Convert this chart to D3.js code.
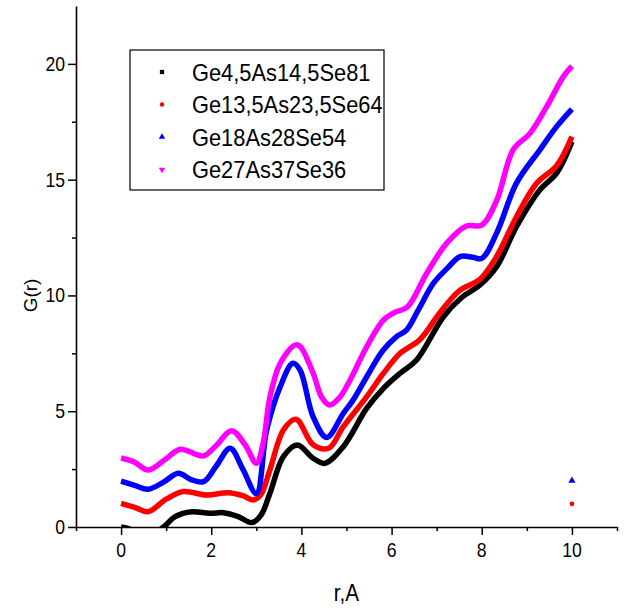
<!DOCTYPE html>
<html>
<head>
<meta charset="utf-8">
<script src="https://cdn.jsdelivr.net/npm/d3@7.9.0/dist/d3.min.js"></script>
<style>
  body { margin: 0; background: #fff; }
  svg text { font-family: "Liberation Sans", Arial, sans-serif; }
</style>
</head>
<body>
<svg id="chart" width="624" height="608"></svg>
<script>
// series: [r, G(r)]
const ge45 = [[0,0],[0.2,-0.1],[0.5,-0.5],[0.94,0],[1.2,0.45],[1.57,0.66],[1.97,0.59],[2.27,0.62],
  [2.6,0.45],[2.9,0.19],[3.1,0.5],[3.3,1.45],[3.6,3.04],[3.91,3.54],[4.26,2.97],[4.52,2.75],
  [4.93,3.47],[5.45,5.13],[5.82,5.99],[6.19,6.64],[6.55,7.2],[7.15,9.08],[7.55,9.9],
  [7.96,10.45],[8.33,11.24],[8.77,12.97],[9.29,14.56],[9.66,15.28],[10,16.64]];
const ge135 = [[0,1.02],[0.3,0.85],[0.6,0.66],[1.0,1.2],[1.38,1.53],[1.9,1.38],[2.38,1.48],[2.7,1.35],
  [2.93,1.17],[3.1,1.4],[3.3,2.46],[3.6,4.19],[3.88,4.65],[4.26,3.55],[4.6,3.4],[4.93,4.33],
  [5.45,5.63],[5.82,6.64],[6.19,7.5],[6.63,8.1],[7.07,9.25],[7.5,10.2],[7.96,10.7],
  [8.33,11.68],[8.77,13.4],[9.22,14.85],[9.66,15.6],[10,16.86]];
const ge18 = [[0,1.98],[0.3,1.8],[0.6,1.63],[0.95,1.95],[1.27,2.32],[1.55,2.05],[1.83,1.96],[2.1,2.6],
  [2.42,3.4],[2.7,2.5],[3.0,1.45],[3.23,4.19],[3.53,6.06],[3.81,7.07],[3.97,6.78],[4.26,4.76],
  [4.56,3.87],[4.93,4.91],[5.15,5.49],[5.45,6.49],[5.8,7.6],[6.11,8.22],[6.33,8.5],[6.6,9.4],
  [6.93,10.53],[7.25,11.2],[7.52,11.68],[7.8,11.65],[8.0,11.6],[8.33,12.69],[8.77,14.85],
  [9.29,16.29],[9.66,17.29],[10,18.05]];
const ge27 = [[0,2.98],[0.3,2.8],[0.6,2.46],[1.0,2.95],[1.31,3.36],[1.82,3.07],[2.1,3.5],[2.45,4.16],
  [2.75,3.55],[3.0,2.75],[3.15,3.6],[3.3,5.6],[3.53,7.07],[3.86,7.86],[3.97,7.8],[4.26,6.64],
  [4.45,5.6],[4.62,5.27],[4.85,5.6],[5.08,6.35],[5.45,7.79],[5.82,8.94],[6.05,9.25],[6.35,9.5],
  [6.78,10.96],[7.22,12.25],[7.66,13.0],[8.0,13.04],[8.33,14.1],[8.7,16.3],[9.07,17.0],
  [9.44,18.15],[9.81,19.45],[10,19.9]];

const seriesNames = ["Ge4,5As14,5Se81", "Ge13,5As23,5Se64", "Ge18As28Se54", "Ge27As37Se36"];
const seriesData = [ge45, ge135, ge18, ge27];
const colors = ["#000000", "#ff0000", "#0000ff", "#ff00ff"];
const symbols = [d3.symbolSquare, d3.symbolCircle, d3.symbolTriangle, d3.symbolTriangle];

// stray single points at r=10
const extraPoints = [{ r: 10, g: 2, s: 2 }, { r: 10, g: 1, s: 1 }];

const xTicks = [0, 2, 4, 6, 8, 10];
const yTicks = [0, 5, 10, 15, 20];

const svg = d3.select("#chart");

const x = d3.scaleLinear().domain([-1, 11]).range([76, 617]);
const y = d3.scaleLinear().domain([0, 22.5]).range([527, 6]);

svg.append("clipPath").attr("id", "plot")
  .append("rect")
  .attr("x", x(-1)).attr("y", y(22.5))
  .attr("width", x(11) - x(-1)).attr("height", y(0) - y(22.5));

const line = d3.line()
  .x((d) => x(d[0]))
  .y((d) => y(d[1]))
  .curve(d3.curveCatmullRom.alpha(0.5));

svg.append("g")
  .attr("clip-path", "url(#plot)")
  .selectAll("path")
  .data(seriesData)
  .join("path")
  .attr("d", line)
  .attr("fill", "none")
  .attr("stroke", (d, i) => colors[i])
  .attr("stroke-width", 5.5)
  .attr("stroke-linejoin", "round");

svg.selectAll(".extra")
  .data(extraPoints)
  .join("path")
  .attr("class", "extra")
  .attr("transform", (d) => `translate(${x(d.r)},${y(d.g)})`)
  .attr("d", (d) => d3.symbol().type(symbols[d.s]).size(d.s === 2 ? 22 : 18)())
  .attr("fill", (d) => colors[d.s]);

// x axis
const xAxis = svg.append("g").attr("transform", `translate(0,${y(0)})`);
xAxis.call(d3.axisBottom(x).tickValues(d3.range(-1, 12, 1)).tickSize(0).tickFormat(""));
xAxis.select(".domain").attr("stroke-width", 1.6);
xAxis.selectAll(".tick line")
  .attr("y2", (d) => (xTicks.includes(d) ? 8 : 4))
  .attr("stroke-width", 1.5);
xAxis.selectAll(".lbl")
  .data(xTicks)
  .join("text")
  .attr("class", "lbl")
  .attr("transform", (d) => `translate(${x(d)},30) scale(0.88,1)`)
  .attr("text-anchor", "middle")
  .attr("font-size", 20)
  .attr("fill", "#000")
  .text((d) => d);

// y axis
const yAxis = svg.append("g").attr("transform", `translate(${x(-1)},0)`);
yAxis.call(d3.axisLeft(y).tickValues(d3.range(0, 22.5, 2.5)).tickSize(0).tickFormat(""));
yAxis.select(".domain").attr("stroke-width", 1.6);
yAxis.selectAll(".tick line")
  .attr("x2", (d) => (yTicks.includes(d) ? -8 : -4))
  .attr("stroke-width", 1.5);
yAxis.selectAll(".lbl")
  .data(yTicks)
  .join("text")
  .attr("class", "lbl")
  .attr("transform", (d) => `translate(-11,${y(d) + 7}) scale(0.88,1)`)
  .attr("text-anchor", "end")
  .attr("font-size", 20)
  .attr("fill", "#000")
  .text((d) => d);

svg.append("text")
  .attr("transform", `translate(37,${y(10)}) rotate(-90)`)
  .attr("text-anchor", "middle")
  .attr("font-size", 19)
  .text("G(r)");

svg.append("text")
  .attr("transform", `translate(${x(5)},601) scale(0.9,1)`)
  .attr("text-anchor", "middle")
  .attr("font-size", 23)
  .text("r,A");

// legend
const legend = svg.append("g");
legend.append("rect")
  .attr("x", 130).attr("y", 50).attr("width", 254).attr("height", 140)
  .attr("fill", "#fff").attr("stroke", "#000").attr("stroke-width", 1.2);
const rows = legend.selectAll(".row")
  .data(seriesNames)
  .join("g")
  .attr("transform", (d, i) => `translate(0,${72 + i * 32.5})`);
rows.append("path")
  .attr("transform", (d, i) => `translate(162,0) rotate(${i === 3 ? 180 : 0})`)
  .attr("d", (d, i) => d3.symbol().type(symbols[i]).size(i === 1 ? 16 : 18)())
  .attr("fill", (d, i) => colors[i]);
rows.append("text")
  .attr("transform", "translate(192,8.5) scale(0.91,1)")
  .attr("font-size", 24)
  .text((d) => d);
</script>
</body>
</html>
